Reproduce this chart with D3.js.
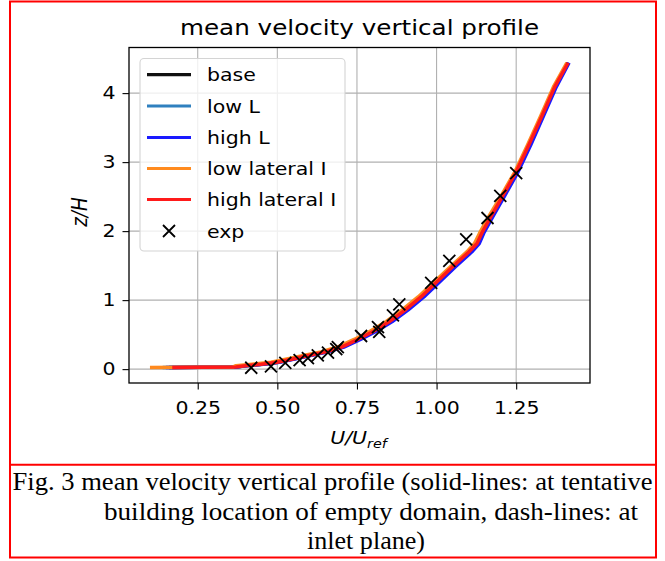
<!DOCTYPE html>
<html>
<head>
<meta charset="utf-8">
<script src="https://cdn.jsdelivr.net/npm/d3@7"></script>
<style>
  html, body { margin: 0; padding: 0; background: #fff; }
  svg { display: block; }
</style>
</head>
<body>
<svg id="fig" width="665" height="561"></svg>
<script>
// Heights (z/H) shared by the simulated profiles
const zSim = [0.025, 0.03, 0.05, 0.07, 0.10, 0.15, 0.20, 0.25, 0.32, 0.43, 0.55, 0.69, 0.86, 1.05, 1.27, 1.49, 1.70, 1.82, 1.97, 2.22, 2.53, 2.86, 3.25, 3.67, 4.09, 4.44];

// Mean velocity U/Uref for each case
const uBase      = [0.16, 0.37, 0.40, 0.45, 0.50, 0.55, 0.60, 0.65, 0.70, 0.75, 0.80, 0.85, 0.90, 0.95, 1.00, 1.05, 1.10, 1.125, 1.14, 1.17, 1.21, 1.25, 1.29, 1.33, 1.37, 1.412];
const uLowL      = [0.14, 0.37, 0.40, 0.455, 0.505, 0.555, 0.605, 0.655, 0.705, 0.755, 0.805, 0.855, 0.905, 0.955, 1.005, 1.055, 1.105, 1.13, 1.145, 1.175, 1.213, 1.253, 1.293, 1.333, 1.373, 1.414];
const uHighL     = [0.15, 0.37, 0.40, 0.455, 0.505, 0.557, 0.607, 0.658, 0.709, 0.761, 0.811, 0.861, 0.911, 0.961, 1.011, 1.061, 1.111, 1.134, 1.148, 1.178, 1.216, 1.256, 1.296, 1.336, 1.376, 1.416];
const uLowLatI   = [0.10, 0.36, 0.37, 0.42, 0.48, 0.534, 0.586, 0.637, 0.689, 0.741, 0.791, 0.842, 0.892, 0.943, 0.994, 1.045, 1.095, 1.119, 1.135, 1.165, 1.205, 1.246, 1.286, 1.327, 1.367, 1.409];
const uHighLatI  = [0.17, 0.37, 0.40, 0.45, 0.50, 0.552, 0.602, 0.652, 0.702, 0.752, 0.802, 0.852, 0.902, 0.952, 1.002, 1.052, 1.102, 1.127, 1.142, 1.172, 1.21, 1.25, 1.29, 1.331, 1.371, 1.413];

const seriesNames  = ["base", "low L", "high L", "low lateral I", "high lateral I"];
const seriesU      = [uBase, uLowL, uHighL, uLowLatI, uHighLatI];
const seriesColors = ["#111111", "#2f80bf", "#1a1aff", "#ff8a1e", "#ff1a1a"];

// Wind-tunnel measurements
const uExp = [0.418, 0.48, 0.525, 0.57, 0.596, 0.627, 0.659, 0.685, 0.69, 0.763, 0.816, 0.82, 0.863, 0.883, 0.983, 1.04, 1.093, 1.16, 1.20, 1.25];
const zExp = [0.02, 0.04, 0.09, 0.13, 0.16, 0.20, 0.24, 0.29, 0.32, 0.48, 0.61, 0.54, 0.78, 0.94, 1.25, 1.57, 1.88, 2.19, 2.51, 2.84];

const xTicks = [0.25, 0.50, 0.75, 1.00, 1.25];
const yTicks = [0, 1, 2, 3, 4];

const titleText = "mean velocity vertical profile";
const captionLines = [
  "Fig. 3 mean velocity vertical profile (solid-lines: at tentative",
  "building location of empty domain, dash-lines: at",
  "inlet plane)"
];

const svg = d3.select("#fig");
const FONT = "'DejaVu Sans', sans-serif";
const SX = 1.12;          // horizontal stretch of the figure's lettering
const FS = 18.3;          // tick / legend / label size

// Frame around figure and caption
svg.append("rect").attr("x", 10).attr("y", 1.5).attr("width", 646).attr("height", 556)
  .attr("fill", "none").attr("stroke", "#ff0000").attr("stroke-width", 2);
svg.append("line").attr("x1", 10).attr("x2", 656).attr("y1", 464.7).attr("y2", 464.7)
  .attr("stroke", "#ff0000").attr("stroke-width", 2);

// Plot area
const L = 129, R = 590, T = 47.5, B = 383;

function padded(ext) {
  const m = (ext[1] - ext[0]) * 0.05;
  return [ext[0] - m, ext[1] + m];
}
const allU = seriesU.flat().concat(uExp);
const allZ = zSim.concat(zExp);
const x = d3.scaleLinear().domain(padded(d3.extent(allU))).range([L, R]);
const y = d3.scaleLinear().domain(padded(d3.extent(allZ))).range([B, T]);

// Grid
const grid = svg.append("g");
grid.selectAll("line.gx").data(xTicks).join("line")
  .attr("x1", d => x(d)).attr("x2", d => x(d)).attr("y1", T).attr("y2", B)
  .attr("stroke", "#b0b0b0").attr("stroke-width", 1.1);
grid.selectAll("line.gy").data(yTicks).join("line")
  .attr("y1", d => y(d)).attr("y2", d => y(d)).attr("x1", L).attr("x2", R)
  .attr("stroke", "#b0b0b0").attr("stroke-width", 1.1);

// Profiles
const line = d3.line().x(d => x(d[0])).y(d => y(d[1]));
const plot = svg.append("g");
seriesU.forEach((u, i) => {
  plot.append("path")
    .datum(u.map((v, k) => [v, zSim[k]]))
    .attr("d", line)
    .attr("fill", "none")
    .attr("stroke", seriesColors[i])
    .attr("stroke-width", 3.5)
    .attr("stroke-linejoin", "round");
});

// Measured points as crosses
const cs = 6;
const crossPath = (cx, cy) =>
  `M${cx - cs},${cy - cs}L${cx + cs},${cy + cs}M${cx - cs},${cy + cs}L${cx + cs},${cy - cs}`;
svg.append("g").selectAll("path").data(uExp.map((u, k) => [u, zExp[k]])).join("path")
  .attr("d", d => crossPath(x(d[0]), y(d[1])))
  .attr("stroke", "#000").attr("stroke-width", 1.8).attr("fill", "none");

// Axes
const TICK = 6.5;
const xAxis = d3.axisBottom(x).tickValues(xTicks).tickFormat(d3.format(".2f")).tickSizeOuter(0).tickSize(TICK).tickPadding(12);
const yAxis = d3.axisLeft(y).tickValues(yTicks).tickFormat(d3.format("d")).tickSizeOuter(0).tickSize(TICK).tickPadding(7);
const gx = svg.append("g").attr("transform", `translate(0,${B})`).call(xAxis);
const gy = svg.append("g").attr("transform", `translate(${L},0)`).call(yAxis);
[gx, gy].forEach(g => {
  g.select(".domain").remove();
  g.selectAll(".tick line").attr("stroke", "#000").attr("stroke-width", 1.1);
  g.selectAll(".tick text").attr("font-size", FS).attr("fill", "#000").attr("font-family", FONT)
    .attr("transform", `scale(${SX},1)`);
});
gy.selectAll(".tick text").attr("x", -(TICK + 7) / SX);

// Frame
svg.append("rect").attr("x", L).attr("y", T).attr("width", R - L).attr("height", B - T)
  .attr("fill", "none").attr("stroke", "#000").attr("stroke-width", 1.3);

// Legend
const leg = svg.append("g");
leg.append("rect").attr("x", 140).attr("y", 58.5).attr("width", 205).attr("height", 192.5)
  .attr("rx", 4).attr("fill", "#fff").attr("fill-opacity", 0.8)
  .attr("stroke", "#d4d4d4").attr("stroke-width", 1.1);
const rowY = [74.7, 106.0, 137.5, 168.5, 199.5, 231];
const legText = (ty, s) => leg.append("text")
  .attr("transform", `translate(207,${ty}) scale(${SX},1)`).attr("dy", "0.36em")
  .attr("font-family", FONT).attr("font-size", FS).attr("fill", "#000").text(s);
seriesNames.forEach((n, i) => {
  leg.append("line").attr("x1", 147).attr("x2", 191).attr("y1", rowY[i]).attr("y2", rowY[i])
    .attr("stroke", seriesColors[i]).attr("stroke-width", 3.2);
  legText(rowY[i], n);
});
leg.append("path").attr("d", crossPath(169, rowY[5]))
  .attr("stroke", "#000").attr("stroke-width", 1.8).attr("fill", "none");
legText(rowY[5], "exp");

// Title
svg.append("text").attr("transform", `translate(${(L + R) / 2},34.5) scale(${SX},1)`)
  .attr("text-anchor", "middle")
  .attr("font-family", FONT).attr("font-size", 22).attr("fill", "#000").text(titleText);

// Axis labels
const xl = svg.append("text").attr("transform", `translate(${(L + R) / 2 - 1},444) scale(${SX},1)`)
  .attr("text-anchor", "middle")
  .attr("font-family", FONT).attr("font-size", FS).attr("font-style", "italic").attr("fill", "#000");
xl.append("tspan").text("U/U");
xl.append("tspan").attr("font-size", 12.8).attr("dy", 4).text("ref");

svg.append("text").attr("transform", `translate(87,212) scale(${SX},1) rotate(-90)`)
  .attr("text-anchor", "middle")
  .attr("font-family", FONT).attr("font-size", FS).attr("font-style", "italic").attr("fill", "#000")
  .text("z/H");

// Caption
const capFont = "'Liberation Serif', 'Times New Roman', serif";
const capPos = [[12.5, 490, 640], [104, 519.5, 534], [307, 548.5, 118]];
captionLines.forEach((t, i) => {
  svg.append("text").attr("x", capPos[i][0]).attr("y", capPos[i][1])
    .attr("textLength", capPos[i][2]).attr("lengthAdjust", "spacingAndGlyphs")
    .attr("font-family", capFont).attr("font-size", 26).attr("fill", "#000").text(t);
});
</script>
</body>
</html>
